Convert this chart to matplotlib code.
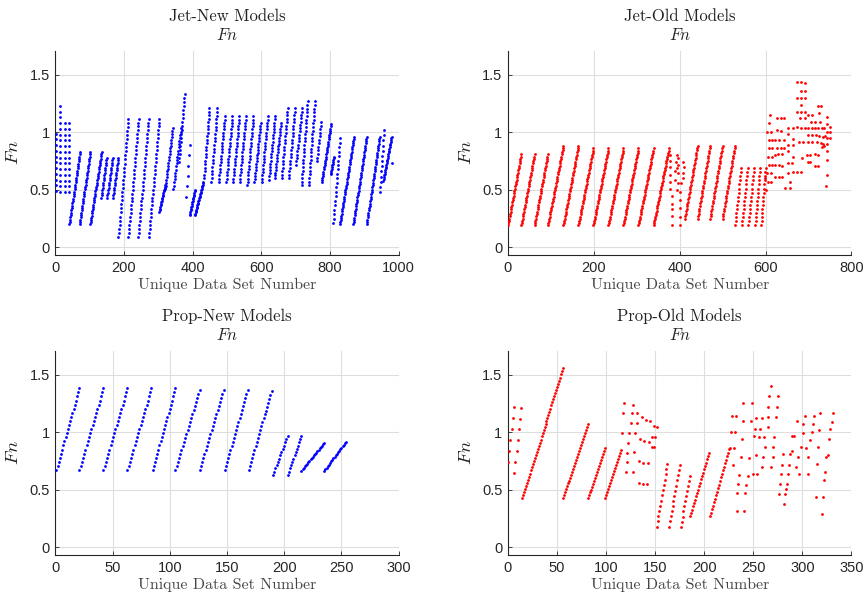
import numpy as np
import matplotlib
matplotlib.use("Agg")
import matplotlib.pyplot as plt

plt.rcParams['mathtext.fontset'] = 'cm'

BLUE = '#0000ff'
RED = '#ff0000'

# ---------------- Jet-New Models ----------------
jn_x0 = [3, 15, 29, 41, 41, 71, 102, 134, 151, 168, 184, 213, 242, 273, 303, 320, 344, 360, 381, 391, 407,
         433, 454, 476, 498, 518, 537, 559, 580, 601, 622, 639, 659, 680, 701, 717, 738, 762,
         776, 802, 810, 829, 868, 907, 946, 955, 980]
jn_x1 = [3, 15, 29, 41, 72, 102, 135, 150, 167, 184, 213, 243, 272, 303, 320, 342, 366, 377, 392, 407, 431,
         449, 472, 494, 516, 536, 555, 577, 598, 619, 640, 657, 677, 698, 719, 735, 756, 774,
         803, 812, 829, 870, 907, 945, 957, 980, 980]
jn_y0 = [0.49, 0.48, 0.48, 0.48, 0.2, 0.2, 0.2, 0.43, 0.43, 0.43, 0.09, 0.09, 0.09, 0.09, 0.31, 0.51, 0.51, 0.74, 0.44, 0.28, 0.28,
         0.60, 0.57, 0.57, 0.57, 0.57, 0.57, 0.54, 0.57, 0.57, 0.59, 0.60, 0.60, 0.60, 0.72, 0.54, 0.54, 0.75,
         0.566, 0.635, 0.21, 0.2, 0.2, 0.2, 0.48, 0.58, 0.736]
jn_y1 = [0.99, 1.23, 1.08, 1.08, 0.83, 0.83, 0.83, 0.78, 0.78, 0.78, 1.12, 1.12, 1.12, 1.12, 0.54, 1.035, 1.035, 1.33, 0.89, 0.50, 0.57,
         1.21, 1.21, 1.14, 1.14, 1.14, 1.14, 1.14, 1.08, 1.14, 1.14, 1.08, 1.21, 1.21, 1.21, 1.27, 1.27, 1.09,
         1.07, 0.79, 0.95, 0.963, 0.963, 0.963, 1.02, 0.963, 0.736]
jn_n = [11, 16, 13, 13, 32, 32, 34, 17, 17, 17, 30, 31, 31, 31, 18, 22, 20, 18, 6, 17, 25,
        21, 21, 21, 21, 21, 21, 22, 21, 21, 21, 20, 21, 21, 18, 24, 24, 12,
        28, 11, 20, 42, 40, 39, 13, 26, 1]

# ---------------- Jet-Old Models ----------------
jo_x0 = [0, 31, 62, 93, 129, 164, 199, 234, 269, 304, 339, 412, 442, 471, 500, 529, 545, 560, 576, 590]
jo_x1 = [31, 62, 93, 129, 164, 199, 234, 269, 304, 339, 375, 442, 471, 500, 529, 543, 558, 573, 587, 600]
jo_y0 = [0.19] * 11 + [0.25] * 4 + [0.19] * 5
jo_y1 = [0.81, 0.81, 0.81, 0.885, 0.885, 0.86, 0.86, 0.86, 0.86, 0.86, 0.86,
         0.885, 0.885, 0.885, 0.885, 0.69, 0.69, 0.69, 0.69, 0.69]
jo_n = [32, 32, 32, 37, 36, 36, 36, 36, 36, 36, 37, 31, 30, 30, 30, 15, 15, 15, 15, 15]

jo_px = [378, 378, 378, 378, 378, 378, 381, 381, 381, 381, 381,
         393, 397, 392, 396, 394, 388, 397, 390, 397, 393,
         401, 401, 401, 401, 401, 408, 409, 408, 407, 404,
         611, 607, 603, 613, 607, 614, 607, 616, 605, 614, 607, 614, 603, 612, 605, 613, 598, 600,
         626, 636, 644, 626, 636, 622, 632, 642, 626, 636, 642, 622, 630, 639, 622, 632, 639, 622, 632, 639, 646, 657,
         653, 665, 653, 663, 653, 663, 653, 663, 652, 661, 653, 663, 657,
         673, 683, 692, 683, 692, 673, 683, 692, 683, 673, 683, 692, 680, 691, 673, 683, 691, 678, 688, 684, 673, 683,
         722, 729, 700, 708, 725, 706, 716, 727, 698, 708, 716, 723, 731, 737, 700, 709, 717, 725, 733, 739,
         700, 709, 719, 729, 735, 737, 731, 696, 704, 716, 723, 698, 704, 716, 723,
         744, 744, 750, 744, 750, 744, 750, 744, 744, 744, 742, 741]
jo_py = [0.80, 0.75, 0.70, 0.63, 0.57, 0.51, 0.45, 0.38, 0.33, 0.27, 0.19,
         0.80, 0.775, 0.745, 0.72, 0.69, 0.66, 0.645, 0.585, 0.557, 0.50,
         0.485, 0.41, 0.34, 0.267, 0.194, 0.745, 0.70, 0.645, 0.60, 0.56,
         1.152, 1.079, 1.006, 1.006, 0.934, 0.934, 0.861, 0.861, 0.789, 0.789, 0.716, 0.716, 0.644, 0.644, 0.571, 0.571, 0.60, 0.50,
         1.122, 1.122, 1.122, 1.021, 1.01, 0.934, 0.934, 0.934, 0.861, 0.861, 0.861, 0.80, 0.81, 0.81, 0.716, 0.716, 0.71, 0.615, 0.609, 0.615, 0.519, 0.519,
         1.041, 1.041, 0.983, 0.942, 0.89, 0.89, 0.838, 0.789, 0.73, 0.73, 0.644, 0.652, 0.571,
         1.442, 1.436, 1.427, 1.36, 1.36, 1.302, 1.302, 1.302, 1.238, 1.175, 1.175, 1.175, 1.122, 1.122, 1.05, 1.041, 1.041, 0.92, 0.92, 0.78, 0.658, 0.652,
         1.23, 1.23, 1.152, 1.152, 1.166, 1.093, 1.093, 1.093, 1.036, 1.036, 1.036, 1.041, 1.036, 1.036, 0.977, 0.977, 0.977, 0.972, 0.963, 0.969,
         0.92, 0.92, 0.92, 0.905, 0.896, 0.885, 0.876, 0.80, 0.80, 0.81, 0.80, 0.74, 0.74, 0.71, 0.71,
         1.137, 1.07, 1.05, 1.0, 1.0, 0.95, 0.95, 0.90, 0.84, 0.76, 0.63, 0.53]

# ---------------- Prop-New Models ----------------
pn_x0 = [1, 21, 42, 63, 85, 105, 126, 148, 169, 190, 203, 215, 235]
pn_x1 = [21, 42, 63, 84, 105, 126, 147, 168, 189, 203, 215, 235, 254]
pn_y0 = [0.673] * 9 + [0.63, 0.63, 0.667, 0.667]
pn_y1 = [1.384, 1.384, 1.384, 1.384, 1.384, 1.37, 1.37, 1.37, 1.363, 0.97, 0.97, 0.91, 0.92]
pn_n = [21, 21, 21, 21, 21, 21, 21, 21, 21, 13, 13, 21, 20]

# ---------------- Prop-Old Models ----------------
po_x0 = [0, 6.5, 14, 56, 82, 99, 151.5, 164, 176, 185.5, 205.9]
po_x1 = [6, 13, 56.4, 81.2, 98.8, 115.2, 162.4, 175, 185.5, 205.3, 225.3]
po_y0 = [0.745, 0.65, 0.426, 0.426, 0.426, 0.426, 0.18, 0.18, 0.18, 0.27, 0.27]
po_y1 = [1.218, 1.215, 1.558, 1.073, 0.86, 0.85, 0.725, 0.716, 0.62, 0.823, 0.853]
po_n = [6, 7, 43, 26, 18, 17, 13, 13, 11, 20, 20]

po_px = [118.6, 127.1, 117.6, 126.1, 131.9, 136.3, 140.4, 145.1, 125.1, 131.2, 116.6, 123.7, 129.5, 135, 139, 144.1,
         147.2, 149.9, 149.2, 151.6, 122.7, 121, 128.8, 121, 134, 138, 142.4, 120.3, 127.8, 133.2, 137.3, 141.4,
         146.5, 148.9,
         228, 232.5, 227, 231, 226, 230, 229.4, 233.1, 241,
         240, 248.4, 239.2, 247.4, 238.2, 237.2, 235.8, 234.8, 233.8, 242, 243, 244.3, 245.4,
         251.1, 251.8, 252.5, 252.8, 249.4, 254.2,
         257.2, 258.6, 255.9, 260.3, 259.3, 261.3, 262, 264.7, 264.7, 266.4, 267.8, 265.4, 268.1, 269.8, 270.5, 271.5,
         273.2, 274.6, 275.3,
         280, 279, 278, 277.3, 276.3, 281.7, 282.4, 283.4, 284.4, 285.8, 286.8, 287.8,
         289.2, 291.6, 289.9, 293.6, 294.3, 296, 297, 298.7, 300.4, 301.1, 302.8, 303.8, 305.5, 306.2, 307.9, 309.6,
         311.3, 312.3, 313.7, 315.4, 316.4, 317, 318.4, 319.8, 321.1, 322.2, 323.2, 324.2, 325.9, 327.2, 328.6, 330, 331.3]
po_py = [1.253, 1.238, 1.166, 1.166, 1.166, 1.131, 1.108, 1.102, 1.079, 1.079, 0.998, 0.998, 0.998, 0.942, 0.925, 0.919,
         0.963, 0.963, 1.056, 1.05, 0.91, 0.823, 0.829, 0.745, 0.754, 0.736, 0.731, 0.658, 0.658, 0.562, 0.551, 0.548,
         0.87, 0.87,
         1.145, 1.145, 1.006, 1.006, 0.861, 0.861, 0.713, 0.316, 0.316,
         1.259, 1.259, 1.102, 1.102, 0.943, 0.783, 0.626, 0.548, 0.47, 0.47, 0.542, 0.623, 0.78,
         0.969, 1.027, 1.122, 0.803, 0.638, 0.638,
         1.027, 1.122, 0.963, 0.789, 0.696, 0.963, 0.876, 1.137, 1.224, 1.317, 1.404, 1.05, 0.696, 0.789, 0.87, 0.963,
         1.137, 1.224, 1.317,
         0.809, 0.716, 0.635, 0.548, 0.461, 0.377, 0.461, 0.505, 0.551, 0.638, 0.716, 0.812,
         0.971, 0.971, 0.841, 0.702, 1.102, 0.783, 0.635, 0.876, 0.998, 1.07, 1.143, 0.861, 0.638, 0.789, 0.934, 1.0,
         1.07, 1.143, 0.435, 0.725, 0.876, 1.021, 1.172, 0.29, 0.435, 0.586, 0.652, 0.783, 0.803, 0.942, 1.027, 1.093, 1.172]


def ramp_points(x0s, x1s, y0s, y1s, ns):
    xs, ys = [], []
    for a, b, c, d, n in zip(x0s, x1s, y0s, y1s, ns):
        xs.append(np.linspace(a, b, n))
        ys.append(np.linspace(c, d, n))
    return np.concatenate(xs), np.concatenate(ys)


fig = plt.figure(figsize=(8.68, 6.01), dpi=100)

W = 343.4 / 868
H = 204.3 / 601
positions = [
    (55.3 / 868, 1 - 255 / 601, W, H),
    (508 / 868, 1 - 255 / 601, W, H),
    (55.3 / 868, 1 - 555 / 601, W, H),
    (508 / 868, 1 - 555 / 601, W, H),
]

panels = [
    ("Jet-New Models", (jn_x0, jn_x1, jn_y0, jn_y1, jn_n), None, BLUE, (0, 1000), np.arange(0, 1001, 200)),
    ("Jet-Old Models", (jo_x0, jo_x1, jo_y0, jo_y1, jo_n), (jo_px, jo_py), RED, (0, 800), np.arange(0, 801, 200)),
    ("Prop-New Models", (pn_x0, pn_x1, pn_y0, pn_y1, pn_n), None, BLUE, (0, 300), np.arange(0, 301, 50)),
    ("Prop-Old Models", (po_x0, po_x1, po_y0, po_y1, po_n), (po_px, po_py), RED, (0, 350), np.arange(0, 351, 50)),
]

axcol = '#262626'

for pos, (title, ramps, extra, col, xlim, xticks) in zip(positions, panels):
    ax = fig.add_axes(pos)
    rx, ry = ramp_points(*ramps)
    ax.scatter(rx, ry, s=4, c=col, linewidths=0, zorder=3)
    if extra is not None:
        ax.scatter(extra[0], extra[1], s=4, c=col, linewidths=0, zorder=3)
    ax.set_xlim(*xlim)
    ax.set_ylim(-0.067, 1.711)
    ax.set_xticks(xticks)
    ax.set_yticks([0, 0.5, 1, 1.5])
    ax.set_yticklabels(['0', '0.5', '1', '1.5'])
    ax.set_xticklabels([str(int(v)) for v in xticks])
    for lab in ax.get_xticklabels() + ax.get_yticklabels():
        lab.set_fontfamily('Liberation Sans')
        lab.set_fontsize(10.5)
        lab.set_color(axcol)
    ax.grid(True, color='#dedede', linewidth=0.8)
    ax.set_axisbelow(True)
    for s in ['top', 'right']:
        ax.spines[s].set_visible(False)
    for s in ['left', 'bottom']:
        ax.spines[s].set_color(axcol)
        ax.spines[s].set_linewidth(0.8)
    ax.tick_params(direction='in', length=3, width=0.6, color=axcol, pad=4)
    ax.set_title(title + '\n$Fn$', fontfamily='cmr10', fontsize=12, color='#222222', pad=8, linespacing=1.2)
    ax.set_xlabel('Unique Data Set Number', fontfamily='cmr10', fontsize=11.5, color='#444444', labelpad=2)
    ax.set_ylabel('$Fn$', fontsize=13.5, color='#222222', labelpad=5)

fig.savefig('out.png', dpi=100)
